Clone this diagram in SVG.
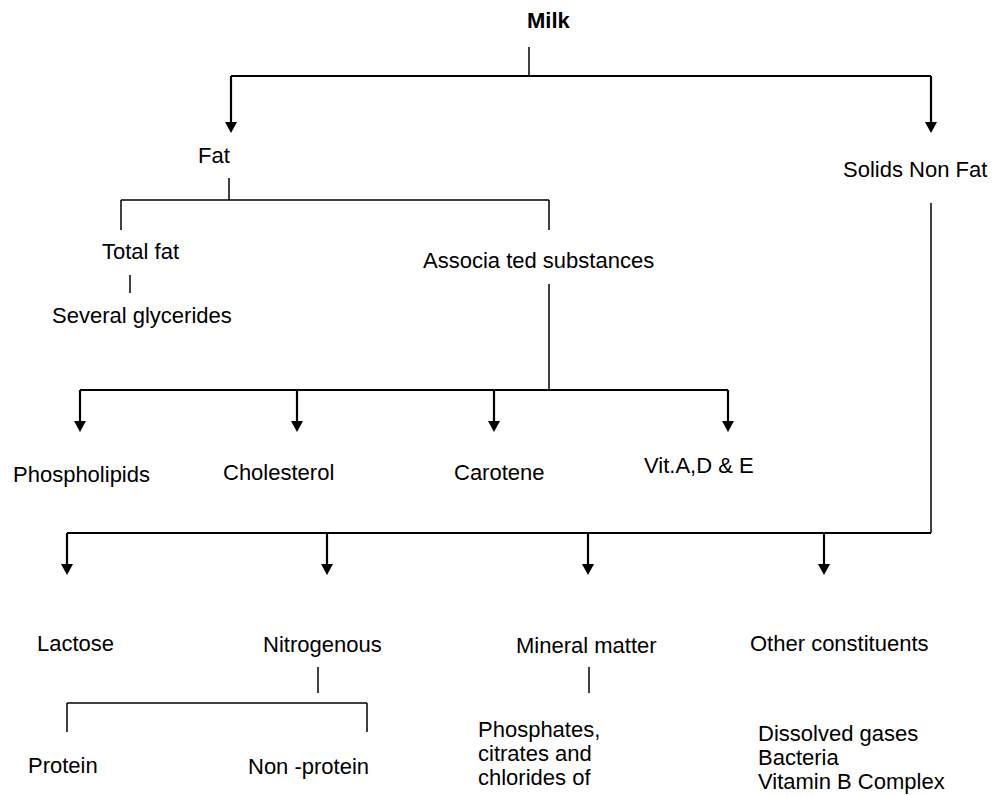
<svg xmlns="http://www.w3.org/2000/svg" width="995" height="795" viewBox="0 0 995 795">
<style>
text{font-family:"Liberation Sans",Arial,sans-serif;font-size:22px;fill:#000}
.b{font-weight:bold}
.c line{stroke:#000;stroke-width:1.5;fill:none}
.c line.t{stroke-width:2.2}
.c line.a{stroke-width:2.2;marker-end:url(#ah)}
</style>
<defs>
<marker id="ah" viewBox="0 0 11 12" refX="0" refY="6" markerWidth="11" markerHeight="12" markerUnits="userSpaceOnUse" orient="auto">
<path d="M0,0 L11,6 L0,12 z" fill="#000"/>
</marker>
</defs>
<rect width="995" height="795" fill="#fff"/>
<g class="c" id="connectors">
<line x1="529" y1="47" x2="529" y2="76"/>
<line class="t" x1="231" y1="76" x2="931" y2="76"/>
<line class="a" x1="231" y1="76" x2="231" y2="122"/>
<line class="a" x1="931" y1="76" x2="931" y2="122"/>
<line x1="229" y1="178" x2="229" y2="200"/>
<line x1="121" y1="200" x2="549" y2="200"/>
<line x1="121" y1="200" x2="121" y2="230"/>
<line x1="549" y1="200" x2="549" y2="230"/>
<line x1="130" y1="275" x2="130" y2="293"/>
<line x1="549" y1="284" x2="549" y2="390"/>
<line class="t" x1="80" y1="390" x2="728" y2="390"/>
<line class="a" x1="80" y1="390" x2="80" y2="421"/>
<line class="a" x1="297" y1="390" x2="297" y2="421"/>
<line class="a" x1="494" y1="390" x2="494" y2="421"/>
<line class="a" x1="728" y1="390" x2="728" y2="421"/>
<line x1="931" y1="203" x2="931" y2="533"/>
<line class="t" x1="67" y1="533" x2="931" y2="533"/>
<line class="a" x1="67" y1="533" x2="67" y2="564"/>
<line class="a" x1="327" y1="533" x2="327" y2="564"/>
<line class="a" x1="588" y1="533" x2="588" y2="564"/>
<line class="a" x1="824" y1="533" x2="824" y2="564"/>
<line x1="318" y1="667" x2="318" y2="693"/>
<line x1="67" y1="703" x2="367" y2="703"/>
<line x1="67" y1="703" x2="67" y2="732"/>
<line x1="367" y1="703" x2="367" y2="732"/>
<line x1="589" y1="667" x2="589" y2="693"/>
</g>
<g id="milk"><text class="b" x="527" y="28">Milk</text></g>
<g id="fat"><text x="198" y="163">Fat</text></g>
<g id="snf"><text x="843" y="177">Solids Non Fat</text></g>
<g id="totalfat"><text x="102" y="259">Total fat</text></g>
<g id="assoc"><text x="423" y="268">Associa ted substances</text></g>
<g id="glycerides"><text x="52" y="323">Several glycerides</text></g>
<g id="phospholipids"><text x="13" y="482">Phospholipids</text></g>
<g id="cholesterol"><text x="223" y="480">Cholesterol</text></g>
<g id="carotene"><text x="454" y="480">Carotene</text></g>
<g id="vitamins"><text x="644" y="473">Vit.A,D &amp; E</text></g>
<g id="lactose"><text x="37" y="651">Lactose</text></g>
<g id="nitrogenous"><text x="263" y="652">Nitrogenous</text></g>
<g id="mineral"><text x="516" y="653">Mineral matter</text></g>
<g id="other"><text x="750" y="651">Other constituents</text></g>
<g id="protein"><text x="28" y="773">Protein</text></g>
<g id="nonprotein"><text x="248" y="774">Non -protein</text></g>
<g id="phosphates"><text x="478" y="737">Phosphates,</text><text x="478" y="761">citrates and</text><text x="478" y="785">chlorides of</text></g>
<g id="dissolved"><text x="758" y="741">Dissolved gases</text><text x="758" y="765">Bacteria</text><text x="758" y="789">Vitamin B Complex</text></g>
</svg>
